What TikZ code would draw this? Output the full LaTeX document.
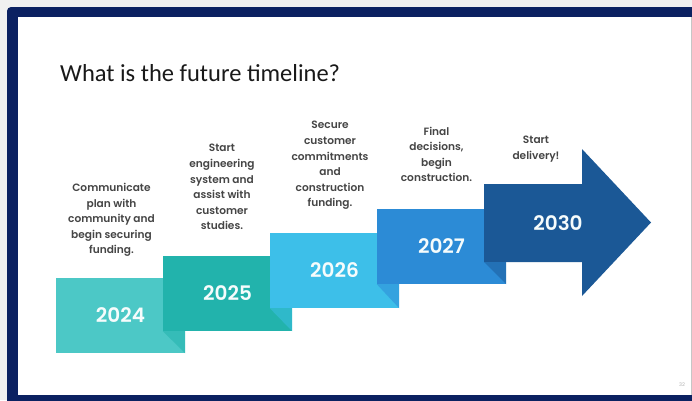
\documentclass[tikz,border=0pt]{standalone}
\usepackage{fontspec}
\setmainfont{Poppins}
\newfontfamily\semifont{Poppins SemiBold}
\newfontfamily\titlefont{Carlito}
\usetikzlibrary{positioning}
\definecolor{framenavy}{HTML}{0B2161}
\definecolor{pagegray}{HTML}{F0F0F0}
\definecolor{stepA}{HTML}{4CC8C6}
\definecolor{stepB}{HTML}{22B3AC}
\definecolor{stepC}{HTML}{3DBFE9}
\definecolor{stepD}{HTML}{2C8BD6}
\definecolor{stepE}{HTML}{1B5896}
\definecolor{notegray}{HTML}{454545}
\tikzset{
  yearbox/.style={minimum width=129pt, minimum height=75pt, inner sep=0pt, text=white!95!stepA,
    font=\semifont\fontsize{20}{24}\selectfont},
  note/.style={align=center, anchor=south, inner sep=0pt, text=notegray,
    font=\semifont\fontsize{10.6}{15.6}\selectfont, execute at end node=\strut},
}

\begin{document}
\begin{tikzpicture}[x=1pt,y=-1pt]
  \useasboundingbox (0,0) rectangle (692,400);
  \fill[pagegray] (0,0) rectangle (692,400);
  \fill[framenavy,rounded corners=4pt] (7,7) rectangle (720,420);
  \fill[white] (18,17) rectangle (691,395);
  \draw[gray!45,line width=1pt] (691.5,17) -- (691.5,395);

  \node[anchor=base west,inner sep=0pt,font=\titlefont\fontsize{24.5}{28}\selectfont,text=black!90] (title) at (60,81) {What is the future timeline?};

  \node[yearbox,fill=stepA] (y2024) at (120.5,315.5) {2024};
  \node[yearbox,fill=stepB] (y2025) at (227.5,293.5) {2025};
  \fill[stepB!55!stepA] (y2025.south west) -- (y2024.south east |- y2025.south west) -- (y2024.south east) -- cycle;
  \node[yearbox,fill=stepC] (y2026) at (334.5,270.5) {2026};
  \fill[stepC!50!stepB] (y2026.south west) -- (y2025.south east |- y2026.south west) -- (y2025.south east) -- cycle;
  \node[yearbox,fill=stepD] (y2027) at (441.5,246.5) {2027};
  \fill[stepD!55!stepC] (y2027.south west) -- (y2026.south east |- y2027.south west) -- (y2026.south east) -- cycle;

  \coordinate (a2030) at (484,262);
  \fill[stepE] (a2030) -- ++(0,-78) -- ++(98,0) -- ++(0,-35) -- ++(69,73.5) -- ++(-69,73.5) -- ++(0,-34) -- cycle;
  \fill[stepE!50!stepD] (a2030) -- (y2027.south east |- a2030) -- (y2027.south east) -- cycle;
  \node[yearbox,minimum width=0pt,minimum height=0pt] (y2030) at (558,223) {2030};

  \node[note,above=19pt of y2024,xshift=-9pt] (n2024) {Communicate\\plan with\\community and\\begin securing\\funding.};
  \node[note,above=21pt of y2025,xshift=-5.5pt] (n2025) {Start\\engineering\\system and\\assist with\\customer\\studies.};
  \node[note,above=21pt of y2026,xshift=-4.5pt] (n2026) {Secure\\customer\\commitments\\and\\construction\\funding.};
  \node[note,above=22pt of y2027,xshift=-5pt] (n2027) {Final\\decisions,\\begin\\construction.};
  \node[note] (n2030) at (536,164) {Start\\delivery!};

  \node[font=\fontsize{5}{6}\selectfont,text=gray!60] (pagenum) at (682,385) {32};
\end{tikzpicture}
\end{document}
